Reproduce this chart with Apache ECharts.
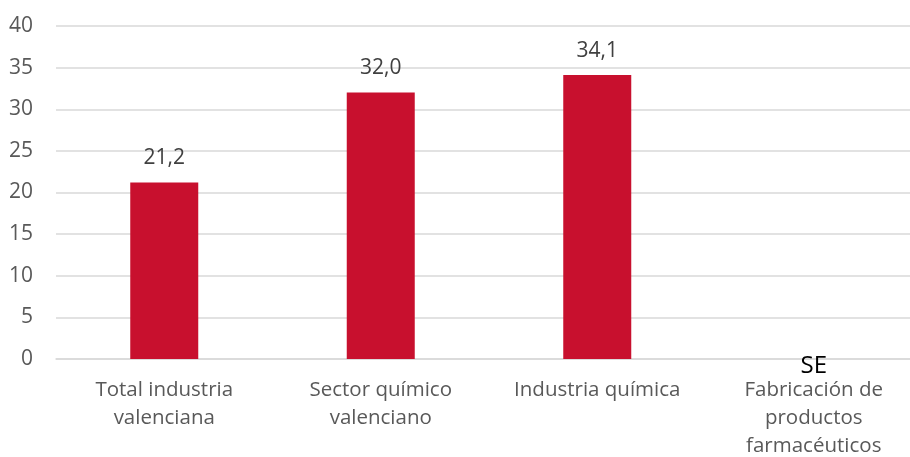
<!DOCTYPE html>
<html>
<head>
<meta charset="utf-8">
<script src="https://cdn.jsdelivr.net/npm/echarts@6/dist/echarts.min.js"></script>
<style>
html, body { margin: 0; padding: 0; background: #fff; }
#main { width: 910px; height: 457px; }
</style>
</head>
<body>
<div id="main"></div>
<script>
const categories = ["Total industria\nvalenciana", "Sector químico\nvalenciano", "Industria química", "Fabricación de\nproductos\nfarmacéuticos"];
const values = [21.2, 32.0, 34.1, 0];
const valueLabels = ["21,2", "32,0", "34,1", "SE"];
const yTicks = [0, 5, 10, 15, 20, 25, 30, 35, 40];

const myChart = echarts.init(document.querySelector("#main"));

const barData = values.map((v, i) => {
	const item = { value: v };
	if (valueLabels[i] === "SE") {
		item.label = { color: "#000", fontSize: 24, offset: [0, 33] };
	}
	return item;
});

const option = {
	animation: false,
	textStyle: { fontFamily: "Open Sans" },
	grid: { left: 56, top: 26, width: 866, height: 333, containLabel: false, outerBoundsMode: "none" },
	xAxis: {
		type: "category",
		data: categories,
		axisLine: { show: true, lineStyle: { color: "#d9d9d9", width: 1.5 } },
		axisTick: { show: false },
		axisLabel: { color: "#595959", fontSize: 20.5, lineHeight: 28, margin: 17, interval: 0 }
	},
	yAxis: {
		type: "value",
		min: yTicks[0],
		max: yTicks[yTicks.length - 1],
		interval: 5,
		axisLine: { show: false },
		axisTick: { show: false },
		axisLabel: { color: "#595959", fontSize: 21, margin: 23 },
		splitLine: { lineStyle: { color: "#d9d9d9", width: 1.5 } }
	},
	series: [{
		type: "bar",
		data: barData,
		barWidth: 68,
		itemStyle: { color: "#C8102E" },
		label: {
			show: true,
			position: "top",
			distance: 14,
			color: "#404040",
			fontSize: 21,
			formatter: p => valueLabels[p.dataIndex]
		}
	}]
};

myChart.setOption(option);
</script>
</body>
</html>
